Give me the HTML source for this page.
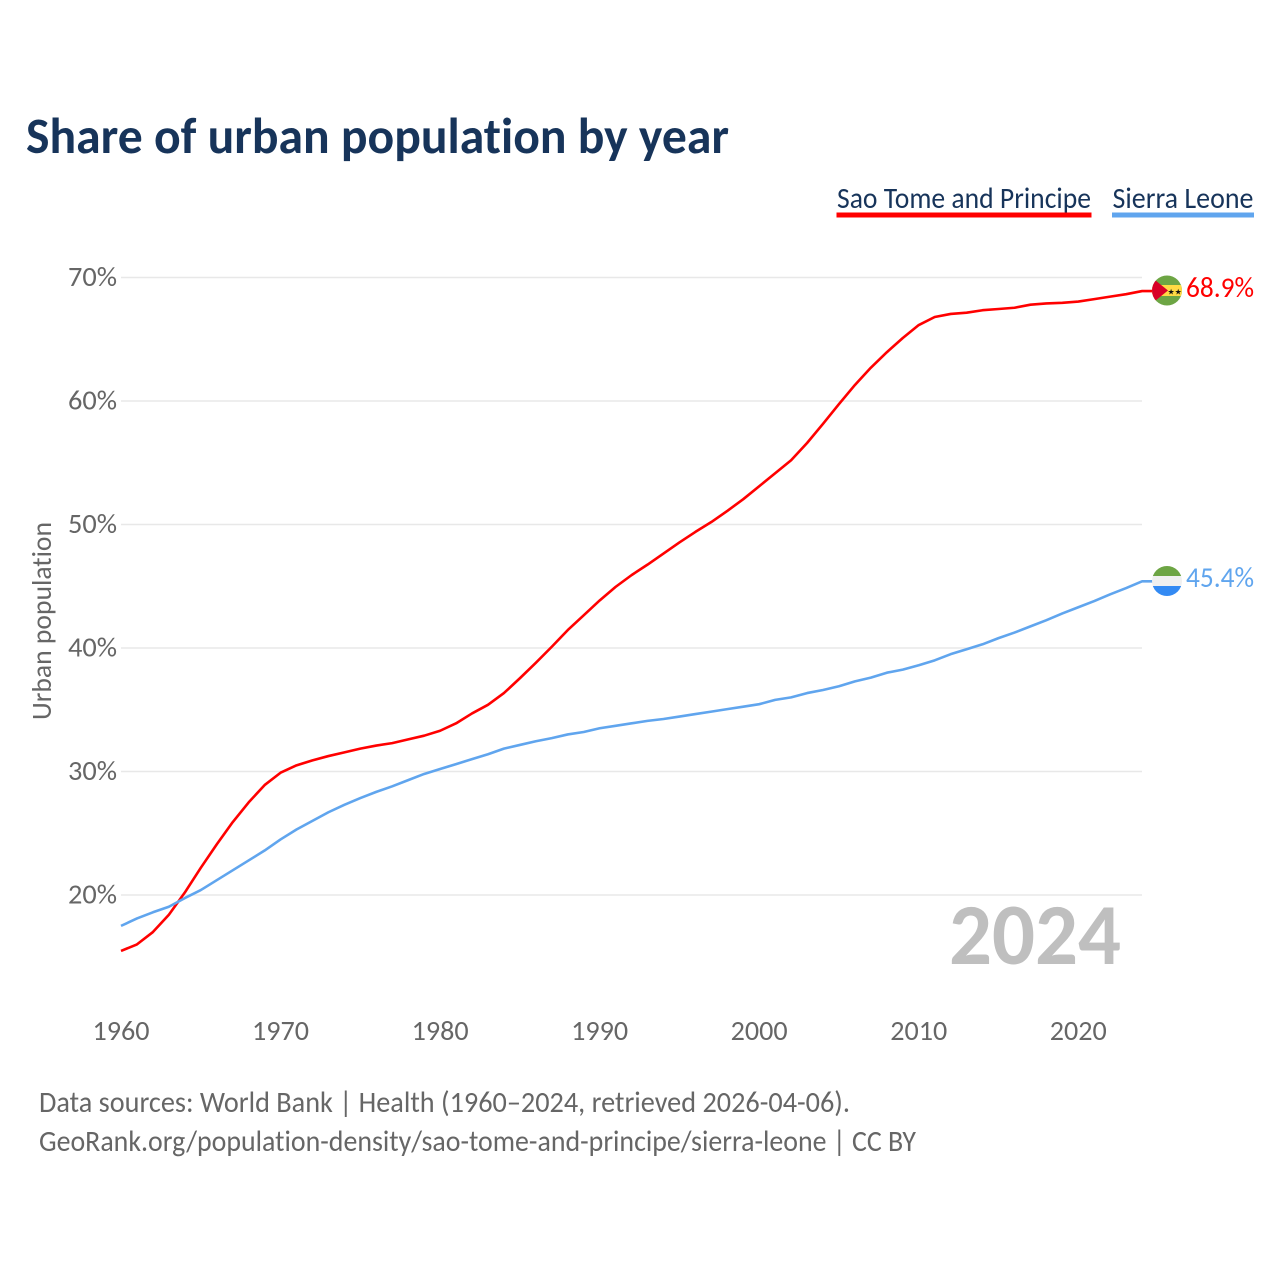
<!DOCTYPE html>
<html lang="en">
<head>
<meta charset="utf-8">
<title>Share of urban population by year</title>
<style>
html,body{margin:0;padding:0;background:#fff;}
svg{display:block;}
text{font-family:"Carlito","Lato","Liberation Sans",sans-serif;font-variant-ligatures:none;font-feature-settings:"liga" 0,"clig" 0;}
</style>
</head>
<body>
<svg id="chart" xmlns="http://www.w3.org/2000/svg" width="1280" height="1280" viewBox="0 0 1280 1280">
  <rect width="1280" height="1280" fill="#ffffff"/>
  <text x="26" y="153" font-size="51" font-weight="700" fill="#17345a" textLength="703" lengthAdjust="spacingAndGlyphs">Share of urban population by year</text>

  <g>
    <text x="837" y="208" font-size="30" fill="#17345a" textLength="254" lengthAdjust="spacingAndGlyphs">Sao Tome and Principe</text>
    <rect x="836.5" y="212.5" width="255" height="5" fill="#ff0000"/>
  </g>
  <g>
    <text x="1112.5" y="208" font-size="30" fill="#17345a" textLength="141" lengthAdjust="spacingAndGlyphs">Sierra Leone</text>
    <rect x="1112" y="212.5" width="142" height="5" fill="#60a5ee"/>
  </g>

  <g id="grid"></g>
  <g id="yticks"></g>
  <g id="xticks"></g>

  <text transform="translate(51,720) rotate(-90)" font-size="28" fill="#666666" textLength="198" lengthAdjust="spacingAndGlyphs">Urban population</text>

  <text x="949" y="964" font-size="87" font-weight="700" fill="#bfbfbf" textLength="172" lengthAdjust="spacingAndGlyphs">2024</text>

  <g id="series"></g>

  <defs>
    <clipPath id="clip-stp"><circle cx="1167" cy="290.5" r="15"/></clipPath>
    <clipPath id="clip-sl"><circle cx="1167" cy="581" r="15"/></clipPath>
  </defs>
  <g clip-path="url(#clip-stp)">
    <rect x="1150" y="273" width="34" height="35" fill="#6da544"/>
    <rect x="1150" y="285" width="34" height="11" fill="#ffda44"/>
    <polygon points="1150,276 1168,290.5 1150,305" fill="#d80027"/>
    <text x="1167.5" y="294.5" font-size="8" fill="#111111" style="font-family:'DejaVu Sans',sans-serif">★★</text>
  </g>
  <g clip-path="url(#clip-sl)">
    <rect x="1150" y="564" width="34" height="12" fill="#6da544"/>
    <rect x="1150" y="576" width="34" height="10" fill="#f0f0f0"/>
    <rect x="1150" y="586" width="34" height="12" fill="#338af3"/>
  </g>

  <text x="1186" y="297" font-size="28.5" fill="#ff0000" textLength="68" lengthAdjust="spacingAndGlyphs">68.9%</text>
  <text x="1186" y="587" font-size="28.5" fill="#60a5ee" textLength="68" lengthAdjust="spacingAndGlyphs">45.4%</text>

  <g>
    <text x="39" y="1112" font-size="29.5" fill="#666666" textLength="811" lengthAdjust="spacingAndGlyphs">Data sources: World Bank | Health (1960–2024, retrieved 2026-04-06).</text>
    <text x="39" y="1151" font-size="29.5" fill="#666666" textLength="877" lengthAdjust="spacingAndGlyphs">GeoRank.org/population-density/sao-tome-and-principe/sierra-leone | CC BY</text>
  </g>
</svg>

<script>
const startYear = 1960;
const saoTomeValues = [15.47,16.0,17.0,18.4,20.2,22.2,24.1,25.9,27.5,28.9,29.9,30.5,30.9,31.25,31.55,31.85,32.1,32.3,32.6,32.9,33.3,33.9,34.7,35.4,36.35,37.55,38.8,40.1,41.45,42.65,43.85,44.95,45.9,46.75,47.65,48.55,49.4,50.2,51.1,52.05,53.1,54.15,55.2,56.6,58.15,59.75,61.3,62.7,63.95,65.1,66.15,66.8,67.05,67.15,67.35,67.45,67.55,67.8,67.9,67.95,68.05,68.25,68.45,68.65,68.9];
const sierraLeoneValues = [17.5,18.1,18.6,19.05,19.75,20.4,21.2,22.0,22.8,23.6,24.5,25.3,26.0,26.7,27.3,27.85,28.35,28.8,29.3,29.8,30.2,30.6,31.0,31.4,31.85,32.15,32.45,32.7,33.0,33.2,33.5,33.7,33.9,34.1,34.25,34.45,34.65,34.85,35.05,35.25,35.45,35.8,36.0,36.35,36.6,36.9,37.3,37.6,38.0,38.25,38.6,39.0,39.5,39.9,40.3,40.8,41.25,41.75,42.25,42.8,43.3,43.8,44.35,44.85,45.4];
const yTickValues = [20,30,40,50,60,70];
const xTickYears = [1960,1970,1980,1990,2000,2010,2020];

const SVG_NS = 'http://www.w3.org/2000/svg';
function xScale(year){ return 121 + (year - 1960) * 15.955; }
function yScale(v){ return 895 - (v - 20) * 12.35; }

const grid = document.getElementById('grid');
const yticks = document.getElementById('yticks');
const xticks = document.getElementById('xticks');
const series = document.getElementById('series');

yTickValues.forEach(function(v){
  const line = document.createElementNS(SVG_NS, 'line');
  
  
  line.setAttribute('x1', xScale(1960));
  line.setAttribute('x2', 1142);
  line.setAttribute('y1', yScale(v));
  line.setAttribute('y2', yScale(v));
  line.setAttribute('stroke', '#e8e8e8');
  line.setAttribute('stroke-width', '1.5');
  grid.appendChild(line);

  const label = document.createElementNS(SVG_NS, 'text');
  
  
  label.setAttribute('x', 68);
  label.setAttribute('y', yScale(v) + 8.5);
  label.setAttribute('font-size', '28');
  label.setAttribute('fill', '#666666');
  label.setAttribute('textLength', '49');
  label.setAttribute('lengthAdjust', 'spacingAndGlyphs');
  label.textContent = v + '%';
  yticks.appendChild(label);
});

xTickYears.forEach(function(y){
  const label = document.createElementNS(SVG_NS, 'text');
  
  
  label.setAttribute('x', xScale(y) - 28.5);
  label.setAttribute('y', 1040);
  label.setAttribute('font-size', '28');
  label.setAttribute('fill', '#666666');
  label.setAttribute('textLength', '57');
  label.setAttribute('lengthAdjust', 'spacingAndGlyphs');
  label.textContent = String(y);
  xticks.appendChild(label);
});

function drawSeries(values, color, name){
  let d = '';
  values.forEach(function(v, i){
    d += (i ? 'L' : 'M') + xScale(startYear + i).toFixed(2) + ' ' + yScale(v).toFixed(2);
  });
  d += 'L1153 ' + yScale(values[values.length - 1]).toFixed(2);
  const path = document.createElementNS(SVG_NS, 'path');
  
  
  path.setAttribute('d', d);
  path.setAttribute('fill', 'none');
  path.setAttribute('stroke', color);
  path.setAttribute('stroke-width', '2.6');
  path.setAttribute('stroke-linejoin', 'round');
  series.appendChild(path);
}
drawSeries(saoTomeValues, '#ff0000', 'line-sao-tome');
drawSeries(sierraLeoneValues, '#60a5ee', 'line-sierra-leone');
</script>
</body>
</html>
